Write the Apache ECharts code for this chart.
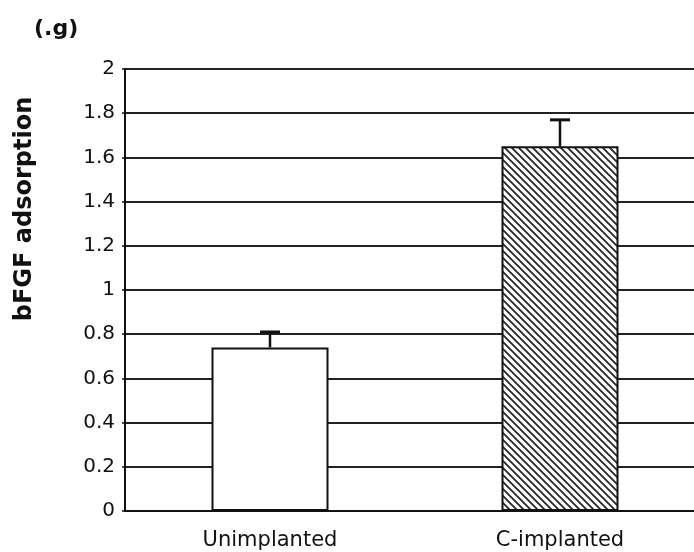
<!DOCTYPE html>
<html>
<head>
<meta charset="utf-8">
<script src="https://cdn.jsdelivr.net/npm/echarts@6/dist/echarts.min.js"></script>
<style>
    html, body { margin: 0; padding: 0; background: #fff; overflow: hidden; }
    /* plot runs past the right edge of the picture, like the cropped original */
    #main { width: 705px; height: 552px; }
</style>
</head>
<body>
<div id="main"></div>
<script>
// data
var categories = ['Unimplanted', 'C-implanted'];
var meanValues = [0.74, 1.65];
var errUpper = [0.07, 0.12];
var yTicks = { min: 0, max: 2, interval: 0.2 };

// diagonal hatching for the implanted bar
function makeHatch() {
    var c = document.createElement('canvas');
    var s = 7;
    c.width = s; c.height = s;
    var ctx = c.getContext('2d');
    ctx.fillStyle = '#fff';
    ctx.fillRect(0, 0, s, s);
    ctx.strokeStyle = '#2a2a2a';
    ctx.lineWidth = 1.9;
    ctx.beginPath();
    ctx.moveTo(-1, -1); ctx.lineTo(s + 1, s + 1);
    ctx.moveTo(-1, s - 1); ctx.lineTo(1, s + 1);
    ctx.moveTo(s - 1, -1); ctx.lineTo(s + 1, 1);
    ctx.stroke();
    return c;
}

var barFills = ['#ffffff', { image: makeHatch(), repeat: 'repeat' }];

var barData = meanValues.map(function (v, i) {
    return {
        value: v,
        itemStyle: { color: barFills[i], borderColor: '#111', borderWidth: 2 }
    };
});

var errData = meanValues.map(function (v, i) {
    return [i, v, v + errUpper[i]];
});

var myChart = echarts.init(document.getElementById('main'));

var option = {
    backgroundColor: '#fff',
    animation: false,
    grid: { left: 125, right: 0, top: 69, bottom: 41, containLabel: false },
    graphic: [
        {
            type: 'text', left: 34, top: 18,
            style: { text: '(.g)', font: 'bold 22px "DejaVu Sans"', fill: '#111' }
        },
        {
            type: 'text', x: 25, y: 209, rotation: Math.PI / 2,
            style: {
                text: 'bFGF adsorption', font: 'bold 24px "DejaVu Sans"', fill: '#111',
                align: 'center', verticalAlign: 'middle'
            }
        }
    ],
    xAxis: {
        type: 'category',
        data: categories,
        axisLine: { lineStyle: { color: '#111', width: 2 } },
        axisTick: { show: false },
        axisLabel: {
            color: '#111', fontSize: 21, fontFamily: 'DejaVu Sans', margin: 19
        }
    },
    yAxis: {
        type: 'value',
        min: yTicks.min, max: yTicks.max, interval: yTicks.interval,
        axisLine: { show: true, lineStyle: { color: '#111', width: 2 } },
        axisTick: { show: true, length: 3, lineStyle: { color: '#111', width: 1.5 } },
        axisLabel: {
            color: '#111', fontSize: 20, fontFamily: 'DejaVu Sans', margin: 10
        },
        splitLine: { show: true, lineStyle: { color: '#222', width: 1.8 } }
    },
    series: [
        {
            type: 'bar',
            data: barData,
            barWidth: 117,
            z: 2
        },
        {
            type: 'custom',
            data: errData,
            z: 3,
            renderItem: function (params, api) {
                var base = api.coord([api.value(0), api.value(1)]);
                var top = api.coord([api.value(0), api.value(2)]);
                var half = 10;
                return {
                    type: 'group',
                    children: [
                        {
                            type: 'line',
                            shape: { x1: base[0], y1: base[1], x2: top[0], y2: top[1] },
                            style: { stroke: '#111', lineWidth: 2.5 }
                        },
                        {
                            type: 'line',
                            shape: { x1: top[0] - half, y1: top[1], x2: top[0] + half, y2: top[1] },
                            style: { stroke: '#111', lineWidth: 3 }
                        }
                    ]
                };
            }
        }
    ]
};

myChart.setOption(option);

window.onresize = function () {
    myChart.resize();
};
</script>
</body>
</html>
